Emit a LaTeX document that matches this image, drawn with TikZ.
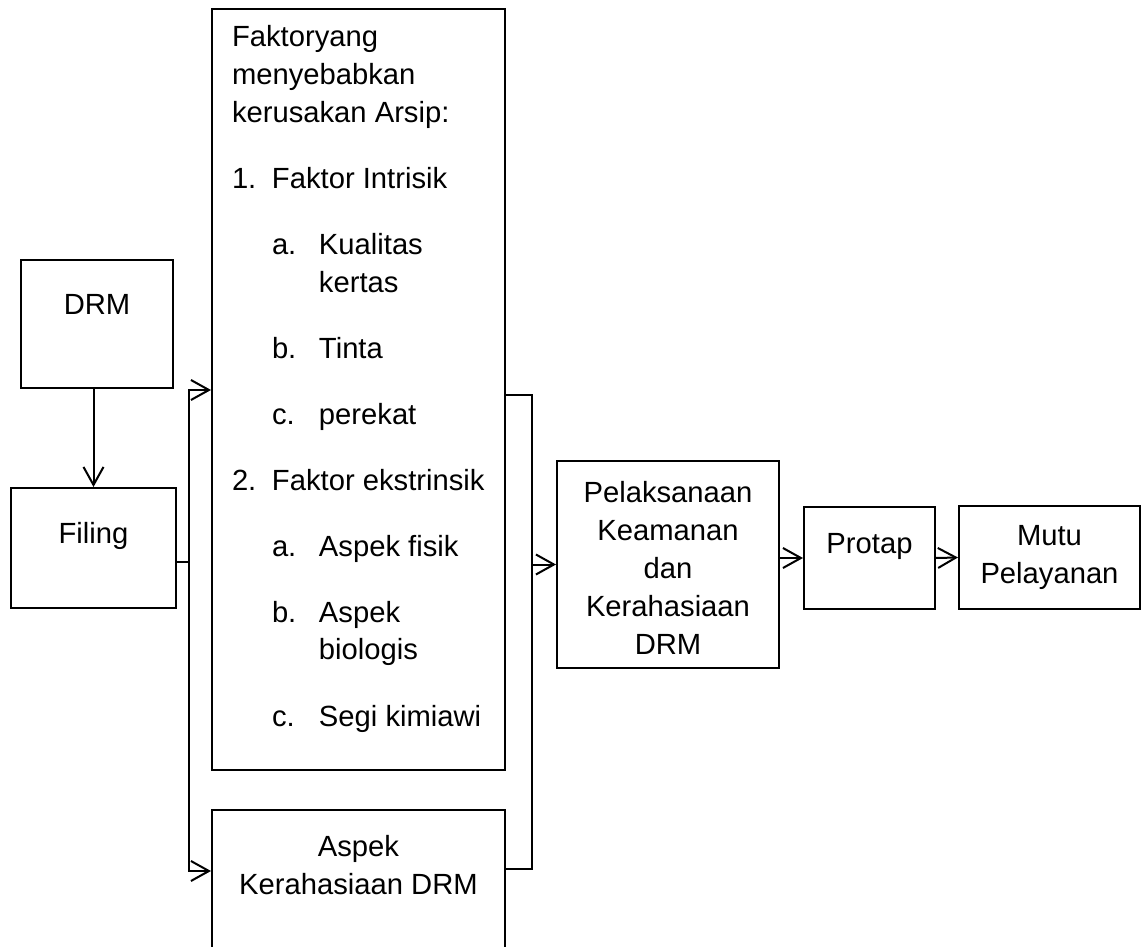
\documentclass[tikz,border=0pt]{standalone}
\usepackage{fontspec}
\setmainfont{Liberation Sans}
\usetikzlibrary{arrows.meta}

% text in a box, set from the top
\newcommand{\boxtxt}[4]{\parbox[c][#2][t]{#1}{\centering\vspace*{#3}\strut #4}}

\tikzset{
  kotak/.style={draw, line width=1pt, inner sep=0pt},
  garis/.style={line width=1pt},
  panah/.style={-{Straight Barb[length=9pt,width=10pt]}, line width=1pt}
}

\begin{document}
\begin{tikzpicture}[x=0.5pt,y=-0.5pt,font=\fontsize{14.6pt}{19pt}\selectfont]
\clip (0,0) rectangle (1142,947);

\node[kotak] (drm) at (97,324) {\boxtxt{76pt}{64pt}{14.2pt}{DRM}};
\node[kotak] (filing) at (93.5,548) {\boxtxt{82.5pt}{60pt}{14.2pt}{Filing}};

\node[kotak] (faktor) at (358.5,389.5) {\parbox[c][380.5pt][t]{146.5pt}{\raggedright\leftskip=10pt
\vspace*{5.2pt}\strut Faktoryang\\
menyebabkan\\
kerusakan Arsip:\\[14pt]
\makebox[20pt][l]{1.}Faktor Intrisik\\[14pt]
\hspace*{20pt}\makebox[23.5pt][l]{a.}Kualitas\\
\hspace*{43.5pt}kertas\\[14pt]
\hspace*{20pt}\makebox[23.5pt][l]{b.}Tinta\\[14pt]
\hspace*{20pt}\makebox[23.5pt][l]{c.}perekat\\[14pt]
\makebox[20pt][l]{2.}Faktor ekstrinsik\\[14pt]
\hspace*{20pt}\makebox[23.5pt][l]{a.}Aspek fisik\\[14pt]
\hspace*{20pt}\makebox[23.5pt][l]{b.}Aspek\\
\hspace*{43.5pt}biologis\\[14pt]
\hspace*{20pt}\makebox[23.5pt][l]{c.}Segi kimiawi}};

\node[kotak] (aspek) at (358.5,905) {\boxtxt{146.5pt}{95pt}{9.7pt}{Aspek\\Kerahasiaan DRM}};

\node[kotak] (pelaks) at (668,564.5) {\boxtxt{111pt}{103.5pt}{7.2pt}{Pelaksanaan\\Keamanan\\dan\\Kerahasiaan\\DRM}};
\node[kotak] (protap) at (869.5,558) {\boxtxt{65.5pt}{51pt}{9.7pt}{Protap}};
\node[kotak] (mutu) at (1049.5,557.5) {\boxtxt{90.5pt}{51.5pt}{6.2pt}{Mutu\\Pelayanan}};

% cabang kiri
\coordinate (cabang) at (189,562);
\coordinate (atas) at (189,390);
\coordinate (bawah) at (189,871);
% cabang kanan
\coordinate (gabung1) at (532,395);
\coordinate (gabung2) at (532,869);

\draw[panah] (drm.south -| filing.north) -- (filing.north);
\draw[garis] (cabang -| filing.east) -- (cabang);
\draw[panah] (cabang) -- (atas) -- (atas -| faktor.west);
\draw[panah] (cabang) -- (bawah) -- (bawah -| aspek.west);
\draw[garis] (gabung1 -| faktor.east) -- (gabung1) -- (gabung2) -- (gabung2 -| aspek.east);
\draw[panah] (gabung1 |- pelaks.west) -- (pelaks.west);
\draw[panah] (pelaks.east |- protap.west) -- (protap.west);
\draw[panah] (protap.east) -- (mutu.west);
\end{tikzpicture}
\end{document}
